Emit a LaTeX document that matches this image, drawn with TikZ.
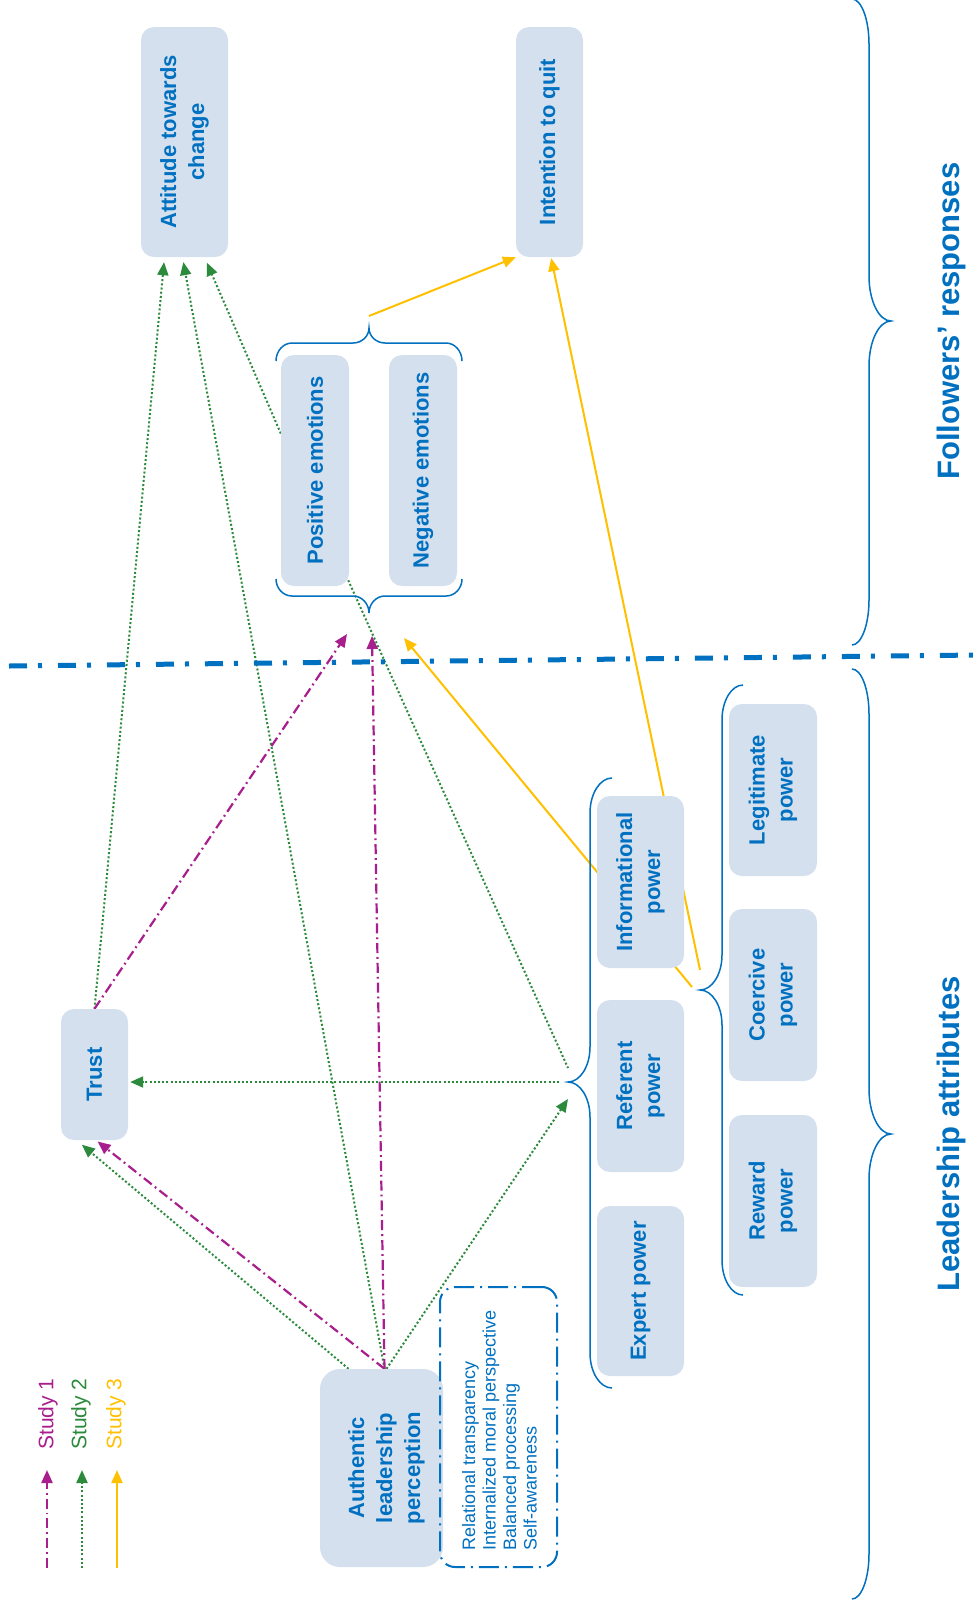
\documentclass[tikz,border=0pt]{standalone}
\usepackage{fontspec}
\setmainfont{Liberation Sans}
\usetikzlibrary{arrows.meta,calc}

\definecolor{txtblue}{RGB}{0,112,192}
\definecolor{boxfill}{RGB}{213,224,239}
\definecolor{sone}{RGB}{168,30,140}
\definecolor{stwo}{RGB}{44,138,60}
\definecolor{sthree}{RGB}{255,192,0}

\pgfdeclarelayer{bg}
\pgfsetlayers{bg,main}

% vertical curly brace: x_end, x_mid, x_tip, y_top, y_tip, y_bottom, corner radius
\newcommand\curlyV[7]{%
  \draw[brace] (#1,#4) .. controls ({#1+0.55*(#2-#1)},#4) and (#2,{#4+0.45*#7}) .. (#2,{#4+#7})
    -- (#2,{#5-#7}) .. controls (#2,{#5-0.45*#7}) and ({#3+0.55*(#2-#3)},#5) .. (#3,#5)
    .. controls ({#3+0.55*(#2-#3)},#5) and (#2,{#5+0.45*#7}) .. (#2,{#5+#7})
    -- (#2,{#6-#7}) .. controls (#2,{#6-0.45*#7}) and ({#1+0.55*(#2-#1)},#6) .. (#1,#6);}
% horizontal curly brace: x_left, x_right, x_tip, y_end, y_mid, y_tip, corner radius
\newcommand\curlyH[7]{%
  \draw[brace] (#1,#4) .. controls (#1,{#4+0.55*(#5-#4)}) and ({#1+0.45*#7},#5) .. ({#1+#7},#5)
    -- ({#3-#7},#5) .. controls ({#3-0.45*#7},#5) and (#3,{#6+0.55*(#5-#6)}) .. (#3,#6)
    .. controls (#3,{#6+0.55*(#5-#6)}) and ({#3+0.45*#7},#5) .. ({#3+#7},#5)
    -- ({#2-#7},#5) .. controls ({#2-0.45*#7},#5) and (#2,{#4+0.55*(#5-#4)}) .. (#2,#4);}

\tikzset{
  pbox/.style={fill=boxfill, rounded corners=13pt, inner sep=0pt, text=txtblue,
    font=\fontsize{22}{28}\selectfont\bfseries, align=center},
  arr/.style={-{Triangle[length=13pt,width=11pt]}},
  s1/.style={draw=sone, line width=2.2pt, dash pattern=on 10pt off 4pt on 1.8pt off 4pt},
  s2/.style={draw=stwo, line width=2pt, dash pattern=on 2pt off 2.2pt},
  s3/.style={draw=sthree, line width=2pt},
  brace/.style={draw=txtblue, line width=1.5pt},
  sepline/.style={draw=txtblue, line width=5pt, dash pattern=on 18pt off 11pt on 4pt off 16pt},
  sidelabel/.style={rotate=90, text=txtblue, font=\fontsize{31}{36}\selectfont\bfseries},
  keytext/.style={rotate=90, font=\fontsize{21}{24}\selectfont},
}

\begin{document}
\begin{tikzpicture}[x=1pt,y=-1pt]
\begin{pgfonlayer}{bg}
  \fill[white] (0,0) rectangle (977,1609);
\end{pgfonlayer}
\path[use as bounding box] (0,0) rectangle (977,1609);

% followers' responses
\node[pbox, minimum width=87pt, minimum height=230pt] (att) at (184.5,142)
  {\rotatebox{90}{\begin{tabular}{@{}c@{}}Attitude towards\\change\end{tabular}}};
\node[pbox, minimum width=67pt, minimum height=230pt] (quit) at (549.5,142)
  {\rotatebox{90}{Intention to quit}};
\node[pbox, minimum width=68pt, minimum height=231pt] (pos) at (315,470.5)
  {\rotatebox{90}{Positive emotions}};
\node[pbox, minimum width=68pt, minimum height=231pt] (neg) at (423,470.5)
  {\rotatebox{90}{Negative emotions}};

% leader side
\node[pbox, minimum width=67pt, minimum height=131pt] (trust) at (94.5,1074.5)
  {\rotatebox{90}{Trust}};
\node[pbox, rounded corners=20pt, minimum width=123pt, minimum height=198pt] (alp) at (381.5,1468)
  {\hspace*{10pt}\rotatebox{90}{\begin{tabular}{@{}c@{}}Authentic\\leadership\\perception\end{tabular}}};
\node[draw=txtblue, line width=2pt, dash pattern=on 20pt off 6pt on 2pt off 6pt,
  rounded corners=15pt, minimum width=117pt, minimum height=280pt] (lbox) at (498.5,1427) {};
\node[rotate=90, anchor=west, align=left, inner sep=0pt, text=txtblue,
  font=\fontsize{18}{20.5}\selectfont] (ltxt) at (499.5,1551)
  {Relational transparency\\Internalized moral perspective\\Balanced processing\\Self-awareness};

% power bases
\node[pbox, minimum width=87pt, minimum height=172pt] (info) at (640.5,882)
  {\rotatebox{90}{\begin{tabular}{@{}c@{}}Informational\\power\end{tabular}}};
\node[pbox, minimum width=87pt, minimum height=172pt] (ref) at (640.5,1086)
  {\rotatebox{90}{\begin{tabular}{@{}c@{}}Referent\\power\end{tabular}}};
\node[pbox, minimum width=87pt, minimum height=170pt] (exp) at (640.5,1291)
  {\rotatebox{90}{Expert power}};
\node[pbox, minimum width=88pt, minimum height=172pt] (legit) at (773,790)
  {\rotatebox{90}{\begin{tabular}{@{}c@{}}Legitimate\\power\end{tabular}}};
\node[pbox, minimum width=88pt, minimum height=172pt] (coer) at (773,995)
  {\rotatebox{90}{\begin{tabular}{@{}c@{}}Coercive\\power\end{tabular}}};
\node[pbox, minimum width=88pt, minimum height=172pt] (rew) at (773,1201)
  {\rotatebox{90}{\begin{tabular}{@{}c@{}}Reward\\power\end{tabular}}};

% braces
\curlyH{276}{462}{369}{361}{343}{328}{16}
\curlyH{276}{462}{369}{579}{596}{613}{16}
\curlyV{612}{590}{568}{778}{1082}{1388}{35}
\curlyV{743}{722}{700}{685}{990}{1295}{35}
\curlyV{852}{869}{891}{-1}{321}{645}{45}
\curlyV{852}{869}{891}{669}{1134}{1599}{45}
\coordinate (eT) at (369,328);
\coordinate (eB) at (369,613);
\coordinate (bL) at (568,1082);
\coordinate (bR) at (700,990);

% side labels
\node[sidelabel] (fol) at (951,321) {Followers’ responses};
\node[sidelabel] (lead) at (951,1134) {Leadership attributes};

% boundary between the two halves
\coordinate (sepL) at (9,666);
\coordinate (sepR) at (977,655);
\draw[sepline] (sepL) -- (sepR);

% relations
\begin{pgfonlayer}{bg}
  % study 2
  \draw[s2,arr,shorten >=5pt] (trust.north) -- ([xshift=-20pt]att.south);
  \draw[s2,arr,shorten >=5pt] ([xshift=3pt]alp.north) -- ([xshift=-2pt]att.south);
  \draw[s2,arr,shorten >=6pt] ([yshift=37pt]pos.west) -- ([xshift=20pt]att.south);
  \draw[s2] ([shift={(-1pt,6pt)}]pos.south east) -- ([yshift=14pt]bL);
  \draw[s2,arr,shorten >=2pt] ([xshift=-9pt]bL) -- (bL -| trust.east);
  \draw[s2,arr,shorten >=7pt] ([xshift=-33pt]alp.north) -- ([xshift=-18pt]trust.south);
  \draw[s2,arr] ([xshift=5pt]alp.north) -- ([yshift=-17pt]bL);
  % study 1
  \draw[s1,arr,shorten >=2pt] ([xshift=3pt]alp.north) -- ([xshift=1.5pt]trust.south);
  \draw[s1,arr] ([xshift=3pt]alp.north) -- ([shift={(3pt,-23pt)}]eB);
  \draw[s1,arr] (trust.north) -- ([shift={(-22pt,-21pt)}]eB);
  % study 3
  \draw[s3,arr] ([yshift=12pt]eT) -- (quit.south west);
  \draw[s3,arr,shorten >=1pt] ([yshift=20pt]bR) -- ([xshift=1.5pt]quit.south);
  \draw[s3,arr] ([shift={(-8pt,3pt)}]bR) -- ([shift={(35pt,-25pt)}]eB);
\end{pgfonlayer}

% legend
\coordinate (k1a) at (47,1568);  \coordinate (k1b) at (47,1470);
\coordinate (k2a) at (82,1568);  \coordinate (k2b) at (82,1470);
\coordinate (k3a) at (117,1568); \coordinate (k3b) at (117,1470);
\draw[s1,arr] (k1a) -- (k1b);
\draw[s2,arr] (k2a) -- (k2b);
\draw[s3,arr] (k3a) -- (k3b);
\node[keytext, text=sone] (k1t) at (48,1414) {Study 1};
\node[keytext, text=stwo] (k2t) at (81,1414) {Study 2};
\node[keytext, text=sthree] (k3t) at (116,1414) {Study 3};
\end{tikzpicture}
\end{document}
